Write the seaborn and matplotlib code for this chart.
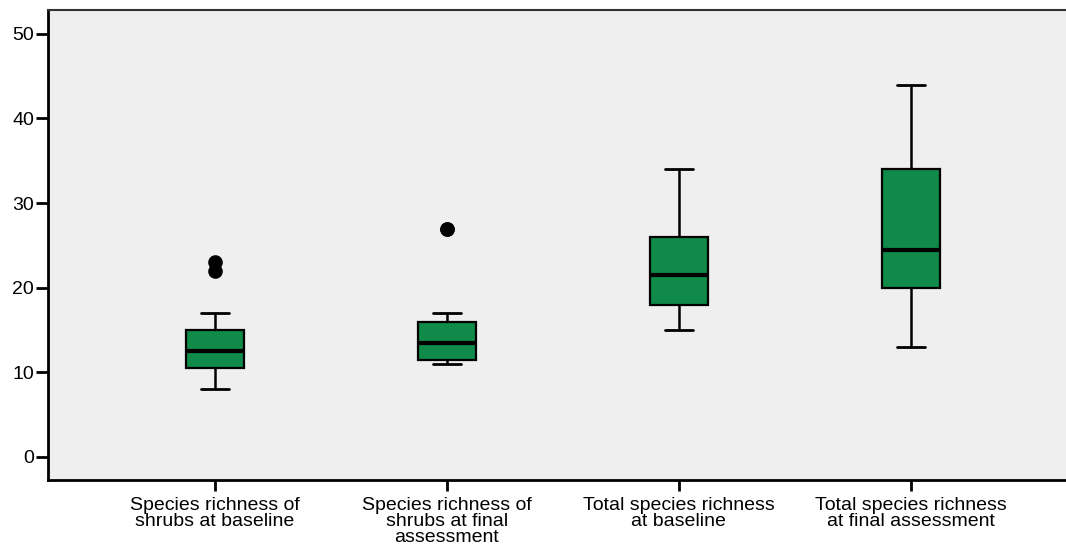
import matplotlib
matplotlib.use("Agg")
import matplotlib.pyplot as plt
import numpy as np
import pandas as pd
import seaborn as sns

# values (13 per group so quartiles land on data points)
shrubs_baseline = [8, 9, 10, 10.5, 11, 12, 12.5, 13, 14, 15, 17, 22, 23]
shrubs_final = [11, 11, 11.5, 11.5, 12, 13, 13.5, 14, 15, 16, 17, 27, 27]
total_baseline = [15, 16, 17, 18, 19, 20, 21.5, 23, 25, 26, 28, 31, 34]
total_final = [13, 16, 18, 20, 22, 23, 24.5, 27, 30, 34, 38, 41, 44]

labels = ["Species richness of\nshrubs at baseline",
          "Species richness of\nshrubs at final\nassessment",
          "Total species richness\nat baseline",
          "Total species richness\nat final assessment"]
yticks = [0, 10, 20, 30, 40, 50]

df = pd.DataFrame({
    "group": np.repeat(labels, 13),
    "value": shrubs_baseline + shrubs_final + total_baseline + total_final,
})

sns.set_style("white")
plt.rcParams["font.family"] = ["Liberation Sans", "DejaVu Sans"]

fig = plt.figure(figsize=(10.66, 5.47), dpi=100)
ax = fig.add_axes([0.045, 0.1225, 0.955, 0.8595])
ax.set_facecolor("#efefef")

sns.boxplot(data=df, x="group", y="value", order=labels, ax=ax,
            width=0.25, whis=1.5, color="#0f8a48", saturation=1,
            linecolor="black", linewidth=1.6, capwidths=0.12,
            medianprops=dict(color="black", linewidth=3),
            whiskerprops=dict(linewidth=1.8),
            capprops=dict(linewidth=2),
            flierprops=dict(marker="o", markerfacecolor="black",
                            markeredgecolor="black", markersize=9.5))

ax.set_xlim(-0.72, 3.67)
ax.set_ylim(-2.72, 52.84)
ax.set_yticks(yticks)
ax.set_xlabel("")
ax.set_ylabel("")
ax.tick_params(axis="y", labelsize=14, length=9, width=2, direction="out",
               left=True, pad=1, colors="black")
ax.tick_params(axis="x", labelsize=14, length=8, width=2, direction="out",
               bottom=True, pad=4, colors="black")
for lab in ax.get_xticklabels():
    lab.set_linespacing(0.95)

ax.spines["right"].set_visible(False)
ax.spines["left"].set_linewidth(2)
ax.spines["bottom"].set_linewidth(2)
ax.spines["top"].set_linewidth(1.5)
ax.spines["top"].set_color("#333333")
for s in ["left", "bottom"]:
    ax.spines[s].set_color("black")

fig.savefig("out.png", dpi=100)
